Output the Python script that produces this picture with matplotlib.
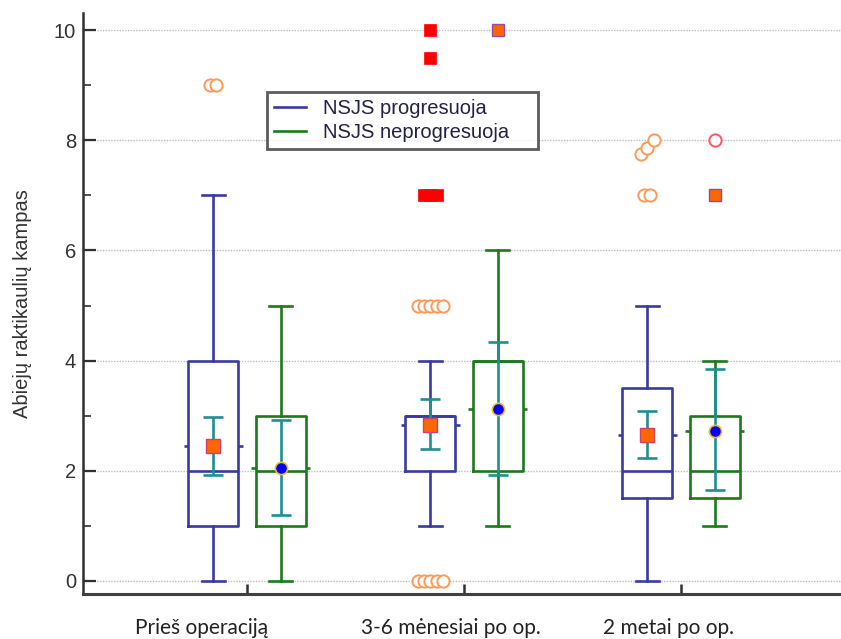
import numpy as np
import matplotlib
matplotlib.use('Agg')
import matplotlib.pyplot as plt
from matplotlib.lines import Line2D

groups = ['Prieš operaciją', '3-6 mėnesiai po op.', '2 metai po op.']
series = ['NSJS progresuoja', 'NSJS neprogresuoja']

# NSJS progresuoja
prog_q1 = [1, 2, 1.5]
prog_med = [2, 3, 2]
prog_q3 = [4, 3, 3.5]
prog_lo = [0, 1, 0]
prog_hi = [7, 4, 5]
prog_mean = [2.45, 2.84, 2.65]
prog_ci_lo = [1.93, 2.39, 2.24]
prog_ci_hi = [2.98, 3.30, 3.08]
prog_out = [[9, 9], [5, 5, 5, 5, 5, 0, 0, 0, 0, 0], [7, 7, 7.75, 7.85, 8]]
prog_far = [[], [7, 7, 7, 9.5, 10], []]

# NSJS neprogresuoja
non_q1 = [1, 2, 1.5]
non_med = [2, 4, 2]
non_q3 = [3, 4, 3]
non_lo = [0, 1, 1]
non_hi = [5, 6, 4]
non_mean = [2.05, 3.12, 2.73]
non_ci_lo = [1.19, 1.93, 1.65]
non_ci_hi = [2.93, 4.33, 3.85]
non_out = [[], [10], [7]]
non_far = [[], [], [8]]

BLUE = '#3a3aa2'
GREEN = '#1c7a1c'
TEAL = '#1f8f8f'

plt.rcParams['font.family'] = ['Liberation Sans', 'DejaVu Sans']

fig = plt.figure(figsize=(8.41, 6.39), dpi=100)
ax = fig.add_axes([83/841, 45/639, 758/841, 581/639])

pos = np.arange(1, len(groups) + 1)
off = 0.155
w = 0.23


def spread(vals, step=0.028):
    # side-by-side placement of coinciding values
    vals = np.asarray(vals, float)
    offs = np.zeros(len(vals))
    keys = np.floor(vals + 0.3)
    for k in np.unique(keys):
        idx = np.where(keys == k)[0]
        idx = idx[np.argsort(vals[idx], kind='stable')]
        offs[idx] = (np.arange(len(idx)) - (len(idx) - 1) / 2) * step
    return offs


def draw_series(x, q1, med, q3, lo, hi, mean, cil, cih, color, mean_style):
    stats = [dict(q1=a, med=m, q3=b, whislo=l, whishi=h, fliers=[])
             for a, m, b, l, h in zip(q1, med, q3, lo, hi)]
    lp = dict(color=color, linewidth=1.9)
    ax.bxp(stats, positions=x, widths=w, capwidths=0.106, showfliers=False,
           boxprops=lp, whiskerprops=lp, capprops=lp, medianprops=lp,
           manage_ticks=False, zorder=3)
    # mean marks on both sides of the box
    ax.hlines(mean, x - w/2 - 0.022, x - w/2, color=color, lw=1.9, zorder=3)
    ax.hlines(mean, x + w/2, x + w/2 + 0.022, color=color, lw=1.9, zorder=3)
    m = np.asarray(mean)
    ax.errorbar(x, m, yerr=[m - np.asarray(cil), np.asarray(cih) - m], fmt='none',
                ecolor=TEAL, elinewidth=1.9, capsize=7, capthick=1.9, zorder=4)
    ax.plot(x, m, linestyle='none', zorder=5, **mean_style)


draw_series(pos - off, prog_q1, prog_med, prog_q3, prog_lo, prog_hi, prog_mean,
            prog_ci_lo, prog_ci_hi, BLUE,
            dict(marker='s', ms=9.5, mfc='#ff6600', mec='#d0406a', mew=1))
draw_series(pos + off, non_q1, non_med, non_q3, non_lo, non_hi, non_mean,
            non_ci_lo, non_ci_hi, GREEN,
            dict(marker='o', ms=8.8, mfc='#0000ff', mec='#f0c020', mew=1.2))

ring = dict(marker='o', ms=8.8, mfc='white', mew=1.4, linestyle='none', zorder=6)
for i, p in enumerate(pos):
    for v, dx in zip(prog_out[i], spread(prog_out[i])):
        ax.plot(p - off + dx, v, mec='#ff9955', **ring)
    if prog_far[i]:
        v = np.asarray(prog_far[i])
        ax.plot(p - off + spread(v), v, marker='s', ms=8.8, mfc='#ff0000',
                mec='#ff0000', mew=0.5, linestyle='none', zorder=6)
    if non_out[i]:
        v = np.asarray(non_out[i])
        ax.plot(p + off + spread(v), v, marker='s', ms=8.8, mfc='#ff6600',
                mec='#9a4a9a', mew=1, linestyle='none', zorder=6)
    for v, dx in zip(non_far[i], spread(non_far[i])):
        ax.plot(p + off + dx, v, mec='#ff5566', **ring)

ax.set_xlim(0.244, 3.737)
ax.set_ylim(-0.236, 10.309)
ax.set_yticks(np.arange(0, 11, 2))
ax.set_yticks(np.arange(1, 10, 2), minor=True)
ax.set_xticks(pos)
ax.set_xticklabels([])
ax.tick_params(axis='y', which='major', direction='in', length=9.5, width=1.6,
               color='#303030', labelsize=14.5, labelcolor='#333333', pad=5)
ax.tick_params(axis='y', which='minor', direction='in', length=5.5, width=1.2,
               color='#303030')
ax.tick_params(axis='x', direction='in', length=7, width=1.8, color='#303030')

for s in ['top', 'right']:
    ax.spines[s].set_visible(False)
ax.spines['left'].set_linewidth(1.8)
ax.spines['left'].set_color('#303030')
ax.spines['bottom'].set_linewidth(2.2)
ax.spines['bottom'].set_color('#404040')

ax.yaxis.grid(True, which='major', linestyle=(0, (1, 1)), color='#bdbdbd', lw=1)
ax.set_axisbelow(True)

ax.set_ylabel('Abiejų raktikaulių kampas', fontsize=14.5, color='#333333', labelpad=16)

label_x = [0.79, 1.94, 2.944]
for lx, g in zip(label_x, groups):
    ax.text(lx, -0.0688, g, transform=ax.get_xaxis_transform(), ha='center',
            va='baseline', fontsize=15, family=['Lato', 'DejaVu Sans'], color='#222222')

handles = [Line2D([], [], color=BLUE, lw=1.9), Line2D([], [], color=GREEN, lw=1.9)]
leg = ax.legend(handles, series, loc='upper left',
                bbox_to_anchor=(0.243, 0.864, 271/758, 0), mode='expand',
                borderaxespad=0, fontsize=14.5, frameon=True, fancybox=False,
                handlelength=1.6, handletextpad=0.8, borderpad=0.35,
                labelspacing=0.25, labelcolor='#222244')
leg.get_frame().set_edgecolor('#333333')
leg.get_frame().set_linewidth(2)
leg.set_zorder(7)

plt.savefig('out.png', dpi=100)
